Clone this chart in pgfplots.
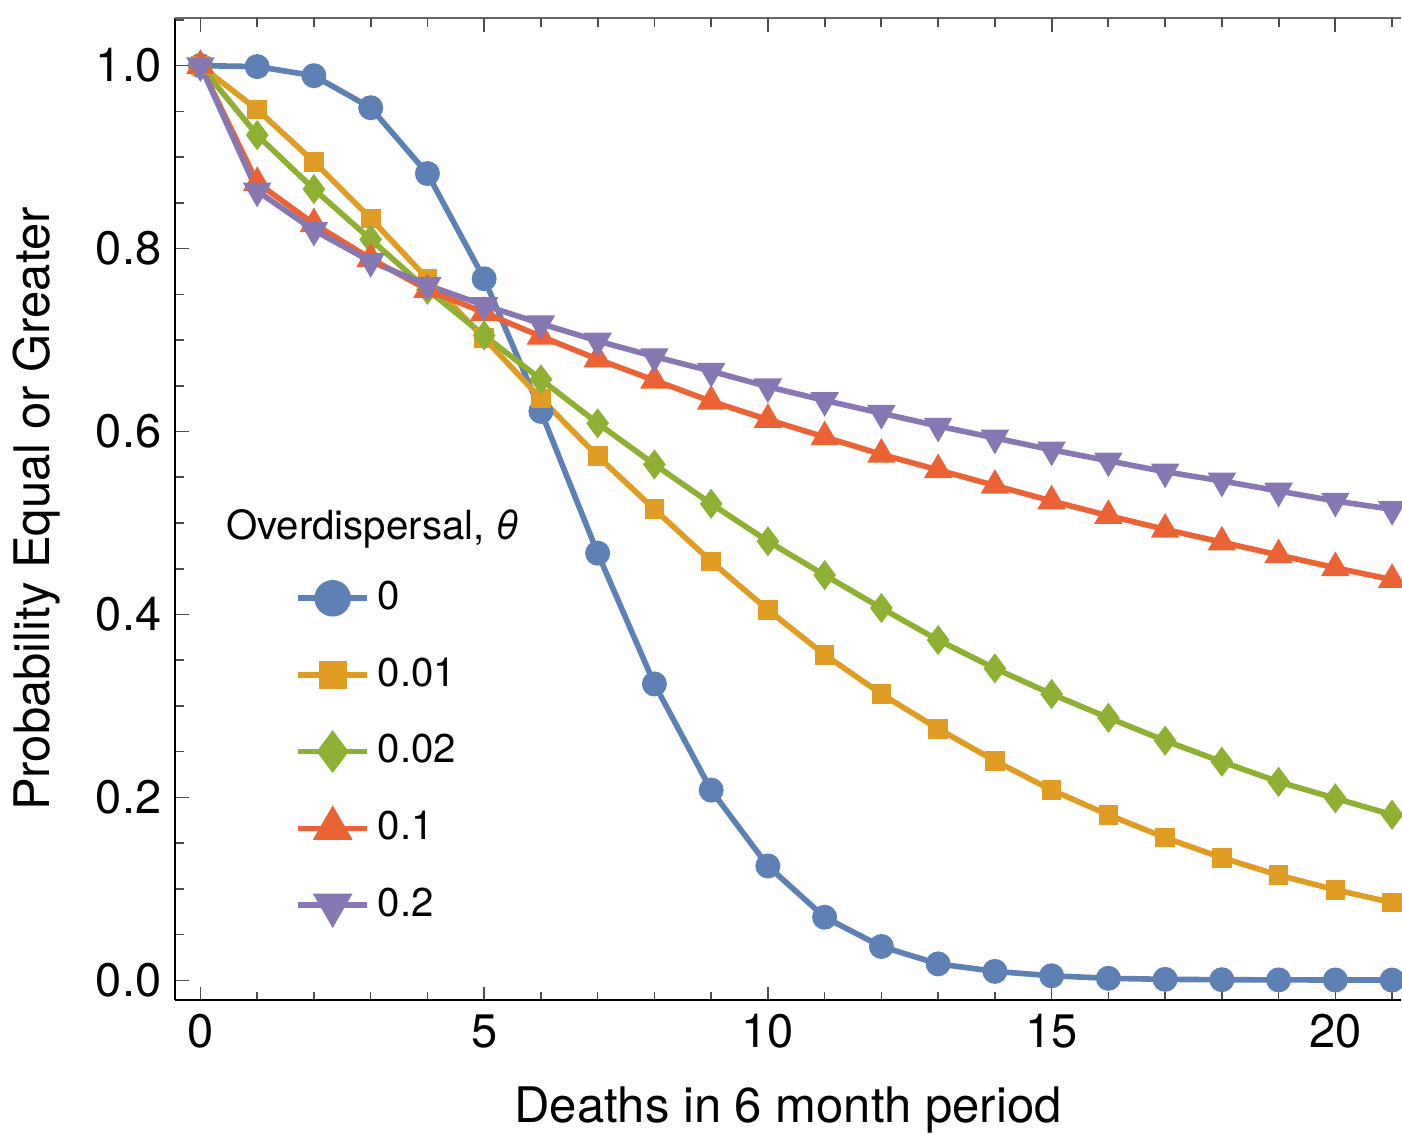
\documentclass[border=0pt]{standalone}
\usepackage{fontspec}
\setmainfont{TeX Gyre Heros}
\usepackage{pgfplots}
\pgfplotsset{compat=1.18}
\definecolor{mblue}{HTML}{5E81B5}
\definecolor{morange}{HTML}{E19C24}
\definecolor{mgreen}{HTML}{8FB032}
\definecolor{mred}{HTML}{EB6235}
\definecolor{mpurple}{HTML}{8778B3}

\begin{document}
\begin{tikzpicture}
\begin{axis}[
  scale only axis, width=305pt, height=244.5pt,
  xmin=-0.44, xmax=21.15, ymin=-0.0217, ymax=1.052,
  axis line style={draw=none},
  xtick pos=bottom, ytick pos=left,
  xtick={0,5,10,15,20}, minor xtick={0,1,...,21},
  ytick={0,0.2,0.4,0.6,0.8,1.0}, minor ytick={0,0.05,...,1.05},
  tick align=inside,
  major tick length=3.4pt, minor tick length=2.1pt,
  tick style={black!70, line width=0.4pt},
  yticklabel style={/pgf/number format/fixed,/pgf/number format/fixed zerofill,/pgf/number format/precision=1},
  /pgf/number format/assume math mode=true,
  tick label style={font=\fontsize{11.7}{13}\selectfont},
  label style={font=\fontsize{12.2}{14}\selectfont},
  xlabel={Deaths in 6 month period},
  ylabel={Probability Equal or Greater},
  xlabel style={at={(axis description cs:0.5,-0.112)}, anchor=center},
  ylabel style={at={(axis description cs:-0.113,0.5)}, anchor=center},
  clip=false,
  every axis plot/.append style={line width=1.4pt},
  legend style={draw=none, fill=none, at={(axis cs:1.45,0.455)}, anchor=north west,
    font=\fontsize{10}{12}\selectfont, row sep=6.5pt},
  legend cell align=left,
  legend image post style={/tikz/every mark/.append style={scale=1.6}},
]
\draw[black, line width=0.5pt] (axis cs:-0.44,-0.0217) -- (axis cs:21.15,-0.0217);
\draw[black, line width=0.5pt] (axis cs:-0.44,-0.0217) -- (axis cs:-0.44,1.052);
\draw[black!60, line width=0.7pt] (axis cs:-0.44,1.052) -- (axis cs:21.15,1.052);
\path ([yshift=4.5pt]axis cs:-0.44,1.052) -- ([yshift=4.5pt]axis cs:0,1.052);
\pgfplotsinvokeforeach{1,2,3,4,6,7,8,9,11,12,13,14,16,17,18,19,21}{
  \draw[black!70, line width=0.45pt] (axis cs:#1,1.052) -- ([yshift=-2.2pt]axis cs:#1,1.052);
}
\pgfplotsinvokeforeach{0,5,10,15,20}{
  \draw[black!70, line width=0.45pt] (axis cs:#1,1.052) -- ([yshift=-3.5pt]axis cs:#1,1.052);
}
\addplot[mblue, mark=*, mark size=2.4pt] coordinates {
(0,1.0) (1,0.999) (2,0.989) (3,0.954) (4,0.882) (5,0.767) (6,0.622) (7,0.467)
(8,0.324) (9,0.208) (10,0.125) (11,0.069) (12,0.037) (13,0.018) (14,0.0098)
(15,0.005) (16,0.0022) (17,0.0011) (18,0.0007) (19,0.0005) (20,0.0004) (21,0.0003)};
\addlegendentry{0}
\addplot[morange, mark=square*, mark size=1.75pt] coordinates {
(0,1.0) (1,0.952) (2,0.895) (3,0.833) (4,0.767) (5,0.702) (6,0.636) (7,0.573)
(8,0.515) (9,0.458) (10,0.405) (11,0.356) (12,0.313) (13,0.275) (14,0.240)
(15,0.208) (16,0.181) (17,0.156) (18,0.134) (19,0.115) (20,0.099) (21,0.085)};
\addlegendentry{0.01}
\addplot[mgreen, mark=diamond*, mark size=2.6pt] coordinates {
(0,1.0) (1,0.924) (2,0.865) (3,0.810) (4,0.755) (5,0.705) (6,0.657) (7,0.609)
(8,0.564) (9,0.521) (10,0.480) (11,0.443) (12,0.407) (13,0.372) (14,0.341)
(15,0.313) (16,0.287) (17,0.262) (18,0.239) (19,0.217) (20,0.199) (21,0.181)};
\addlegendentry{0.02}
\addplot[mred, mark=triangle*, mark size=2.7pt] coordinates {
(0,1.0) (1,0.872) (2,0.827) (3,0.789) (4,0.755) (5,0.730) (6,0.704) (7,0.679)
(8,0.656) (9,0.633) (10,0.613) (11,0.594) (12,0.575) (13,0.558) (14,0.541)
(15,0.524) (16,0.508) (17,0.493) (18,0.479) (19,0.465) (20,0.451) (21,0.438)};
\addlegendentry{0.1}
\addplot[mpurple, mark=triangle*, mark size=2.7pt, mark options={rotate=180}] coordinates {
(0,1.0) (1,0.863) (2,0.820) (3,0.786) (4,0.760) (5,0.738) (6,0.718) (7,0.699)
(8,0.682) (9,0.666) (10,0.649) (11,0.634) (12,0.620) (13,0.606) (14,0.593)
(15,0.580) (16,0.568) (17,0.556) (18,0.546) (19,0.535) (20,0.524) (21,0.515)};
\addlegendentry{0.2}
\node[anchor=west, font=\fontsize{10}{12}\selectfont, inner sep=0pt] at (axis cs:0.44,0.494) {Overdispersal, \textit{θ}};
\end{axis}
\end{tikzpicture}
\end{document}
